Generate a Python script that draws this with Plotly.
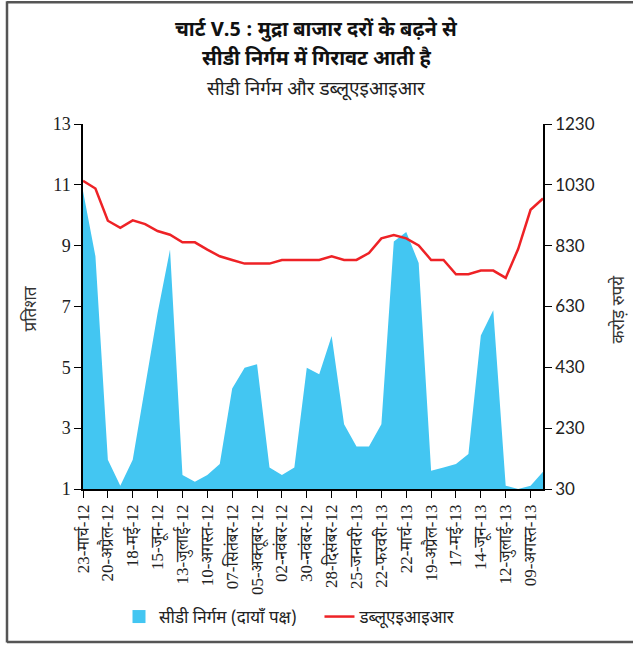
import pandas as pd
import plotly.graph_objects as go

# fortnightly reporting dates
dates = pd.date_range("2012-03-23", periods=38, freq="14D").strftime("%Y-%m-%d").tolist()

tick_labels = [
    "23-मार्च-12", "20-अप्रैल-12", "18-मई-12", "15-जून-12", "13-जुलाई-12",
    "10-अगस्त-12", "07-सितंबर-12", "05-अक्तूबर-12", "02-नवंबर-12", "30-नवंबर-12",
    "28-दिसंबर-12", "25-जनवरी-13", "22-फरवरी-13", "22-मार्च-13", "19-अप्रैल-13",
    "17-मई-13", "14-जून-13", "12-जुलाई-13", "09-अगस्त-13",
]
tick_dates = dates[::2]

# CD issuance (Rs crore, right axis)
cd_issuance = [
    1010, 795, 126, 41, 126, 369, 609, 817, 76, 54,
    76, 112, 360, 429, 440, 101, 76, 101, 429, 407,
    533, 243, 170, 170, 243, 844, 875, 773, 90, 101,
    112, 145, 535, 618, 41, 30, 41, 87,
]

# WAIR (per cent, left axis)
wair = [
    11.13, 10.88, 9.82, 9.59, 9.83, 9.71, 9.48, 9.36, 9.11, 9.11,
    8.87, 8.65, 8.53, 8.41, 8.41, 8.41, 8.53, 8.53, 8.53, 8.53,
    8.65, 8.53, 8.53, 8.76, 9.24, 9.35, 9.24, 9.01, 8.53, 8.53,
    8.06, 8.06, 8.18, 8.18, 7.94, 8.89, 10.18, 10.55,
]

left_ticks = [1, 3, 5, 7, 9, 11, 13]
right_ticks = [30, 230, 430, 630, 830, 1030, 1230]

BLUE = "#43c6f2"
RED = "#ee2226"
DEV = "Noto Sans Devanagari, Noto Serif Devanagari, Lohit Devanagari, Noto Sans, sans-serif"
SERIF = "Liberation Serif, Noto Serif Devanagari, Noto Sans Devanagari, serif"

fig = go.Figure()
fig.add_trace(go.Scatter(
    x=dates, y=cd_issuance, name="सीडी निर्गम (दायाँ पक्ष)",
    mode="lines", line=dict(width=0, color=BLUE),
    fill="tozeroy", fillcolor=BLUE, yaxis="y", showlegend=False,
))
# legend proxy (square swatch)
fig.add_trace(go.Scatter(
    x=[None], y=[None], name="सीडी निर्गम (दायाँ पक्ष)\u00a0\u00a0\u00a0\u00a0", mode="markers",
    marker=dict(symbol="square", size=13, color=BLUE), yaxis="y",
))
fig.add_trace(go.Scatter(
    x=dates, y=wair, name="डब्लूएइआइआर",
    mode="lines", line=dict(width=2.5, color=RED), yaxis="y2",
))

ML, MR, MT, MB = 83, 90, 124, 156
W, H = 633, 646
PW, PH = W - ML - MR, H - MT - MB

def px(x):
    return (x - ML) / PW

def py(y):
    return (H - MB - y) / PH

fig.update_layout(
    width=W, height=H,
    margin=dict(l=ML, r=MR, t=MT, b=MB),
    paper_bgcolor="white", plot_bgcolor="white",
    showlegend=True,
    legend=dict(orientation="h", x=px(290), xanchor="center", y=py(617), yanchor="middle",
                font=dict(family=DEV, size=17, color="#222"), itemwidth=30,
                traceorder="normal", tracegroupgap=0),
    xaxis=dict(
        type="date", range=[dates[0], dates[-1]],
        tickvals=tick_dates, ticktext=tick_labels, tickangle=-90,
        showline=True, linecolor="black", linewidth=1.5,
        ticks="outside", ticklen=7, tickcolor="black", tickwidth=1.2,
        showgrid=False, zeroline=False,
        tickfont=dict(family=SERIF, size=17, color="#222"),
    ),
    yaxis=dict(
        side="right", range=[30, 1230], tickvals=right_ticks,
        showline=True, linecolor="black", linewidth=1.5,
        ticks="outside", ticklen=7, tickcolor="black", tickwidth=1.2,
        showgrid=False, zeroline=False,
        tickfont=dict(family="Lato, Liberation Sans, sans-serif", size=17, color="#222"),
    ),
    yaxis2=dict(
        side="left", overlaying="y", range=[1, 13], tickvals=left_ticks,
        showline=True, linecolor="black", linewidth=1.5,
        ticks="outside", ticklen=7, tickcolor="black", tickwidth=1.2,
        showgrid=False, zeroline=False,
        tickfont=dict(family=SERIF, size=18, color="#222"),
    ),
)

annotations = [
    dict(text="<b>चार्ट V.5 : मुद्रा बाजार दरों के बढ़ने से</b>", x=px(316), y=py(30),
         font=dict(family=DEV, size=20, color="#111")),
    dict(text="<b>सीडी निर्गम में गिरावट आती है</b>", x=px(316), y=py(59),
         font=dict(family=DEV, size=20, color="#111")),
    dict(text="सीडी निर्गम और डब्लूएइआइआर", x=px(316), y=py(90),
         font=dict(family=DEV, size=19, color="#222")),
    dict(text="प्रतिशत", x=px(31), y=py(310), textangle=-90,
         font=dict(family=DEV, size=17, color="#333")),
    dict(text="करोड़ रुपये", x=px(619), y=py(310), textangle=-90,
         font=dict(family=DEV, size=17, color="#333")),
]
for a in annotations:
    a.update(xref="paper", yref="paper", showarrow=False, xanchor="center", yanchor="middle")
fig.update_layout(annotations=annotations)

# outer frame
border = dict(color="#555", width=2.5)
fig.add_shape(type="line", xref="paper", yref="paper", x0=px(7), x1=px(7), y0=py(1), y1=py(644), line=border)
fig.add_shape(type="line", xref="paper", yref="paper", x0=px(7), x1=px(633), y0=py(2), y1=py(2), line=border)
fig.add_shape(type="line", xref="paper", yref="paper", x0=px(7), x1=px(633), y0=py(643.5), y1=py(643.5), line=border)

fig.write_html("out.html")
